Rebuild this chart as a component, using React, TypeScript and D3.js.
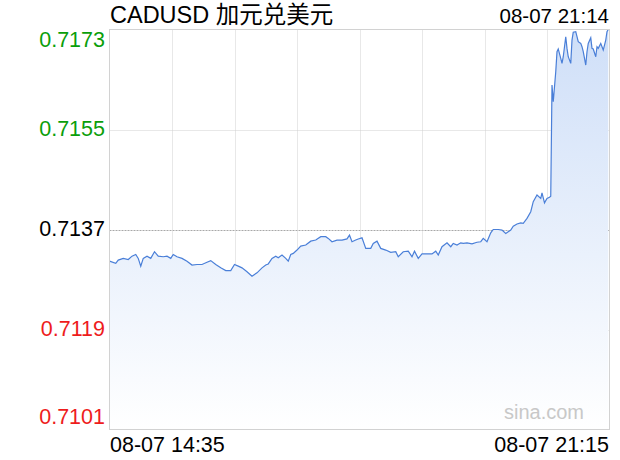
import * as d3 from "d3";

// minute offsets from 08-07 14:35 and CADUSD price
const minutes = [
  0, 5, 7, 11, 15, 18, 21, 23, 25, 27, 30, 33, 36, 39, 43, 46, 49, 51, 54, 58,
  62, 66, 70, 74, 78, 81, 85, 89, 93, 97, 100, 103, 106, 110, 114, 118, 122,
  125, 127, 130, 133, 135, 138, 141, 143, 145, 147, 150, 153, 157, 161, 165,
  169, 173, 175, 178, 182, 186, 190, 192, 194, 197, 199, 202, 205, 209, 211,
  214, 217, 221, 225, 229, 231, 235, 239, 242, 244, 247, 250, 254, 258, 261,
  263, 266, 270, 273, 275, 278, 281, 283, 286, 290, 294, 297, 299, 302, 305,
  307, 311, 314, 317, 319, 321, 323, 326, 329, 331, 334, 337, 339, 342, 345,
  346, 348, 350, 352, 353, 354, 355, 357, 358, 359, 361, 362, 363, 365, 366,
  367, 369, 370, 371, 373, 374, 375, 377, 378, 379, 381, 382, 383, 385, 386,
  387, 389, 390, 391, 393, 394, 395, 397, 398, 399,
];
const prices = [
  0.71313, 0.71309, 0.71315, 0.71318, 0.71316, 0.71322, 0.71325, 0.71318,
  0.71304, 0.71318, 0.71322, 0.71318, 0.7133, 0.71322, 0.71321, 0.71322,
  0.71318, 0.71325, 0.71321, 0.71318, 0.71313, 0.71306, 0.71307, 0.71307,
  0.71311, 0.71314, 0.71307, 0.71301, 0.71296, 0.71296, 0.71307, 0.71304,
  0.71301, 0.71294, 0.71286, 0.71292, 0.71301, 0.71306, 0.71308, 0.71318,
  0.71322, 0.71319, 0.71324, 0.71318, 0.71313, 0.71325, 0.71327, 0.71333,
  0.7134, 0.71342, 0.71349, 0.71351, 0.71357, 0.71357, 0.71354, 0.71348,
  0.71351, 0.71351, 0.71353, 0.7136, 0.71348, 0.71351, 0.71353, 0.71355,
  0.71336, 0.71336, 0.71345, 0.71349, 0.71336, 0.71333, 0.71329, 0.7133,
  0.71321, 0.7133, 0.71331, 0.71321, 0.71331, 0.71318, 0.71326, 0.71326,
  0.71326, 0.71331, 0.71324, 0.71339, 0.71346, 0.71339, 0.71345, 0.71342,
  0.71346, 0.71345, 0.71346, 0.71344, 0.71347, 0.71348, 0.71354, 0.71348,
  0.71364, 0.7137, 0.7137, 0.71369, 0.71363, 0.71366, 0.71369, 0.71376,
  0.7138, 0.71382, 0.71381, 0.7139, 0.71402, 0.7142, 0.71432, 0.71426,
  0.71436, 0.71418, 0.71426, 0.71428, 0.7143, 0.7163, 0.716, 0.71654, 0.7169,
  0.71695, 0.71678, 0.71669, 0.71681, 0.71717, 0.71696, 0.71681, 0.71669,
  0.71711, 0.71725, 0.71726, 0.71717, 0.71708, 0.71705, 0.71699, 0.7169,
  0.71666, 0.7169, 0.71705, 0.71715, 0.71696, 0.71695, 0.71681, 0.71699,
  0.71696, 0.71705, 0.71699, 0.71693, 0.71711, 0.71726, 0.7173, 0.71717,
];

const yTicks = [0.7173, 0.7155, 0.7137, 0.7119, 0.7101];
const prevClose = 0.7137;
const title = "CADUSD 加元兑美元";
const lastTime = "08-07 21:14";
const startLabel = "08-07 14:35";
const endLabel = "08-07 21:15";
const totalMinutes = 400;
const xGridCount = 8;

const W = 620;
const H = 460;
const plot = { left: 109.5, right: 609.5, top: 29.5, bottom: 429.5 };
const font = "'Liberation Sans', Arial, 'Noto Sans CJK SC', sans-serif";

export default function App() {
  const x = d3.scaleLinear().domain([0, totalMinutes]).range([plot.left, plot.right]);
  const y = d3
    .scaleLinear()
    .domain([yTicks[yTicks.length - 1], yTicks[0]])
    .range([plot.bottom, plot.top]);

  const data = minutes.map((m, i) => ({ m, p: prices[i] }));
  const line = d3
    .line<{ m: number; p: number }>()
    .x((d) => x(d.m))
    .y((d) => y(d.p));
  const area = d3
    .area<{ m: number; p: number }>()
    .x((d) => x(d.m))
    .y0(plot.bottom)
    .y1((d) => y(d.p));

  const xGrid = d3.range(1, xGridCount).map((i) => (totalMinutes / xGridCount) * i);

  const labelColor = (v: number) =>
    v > prevClose ? "#0a9e0a" : v < prevClose ? "#ee1c1c" : "#000";
  const labelDy = (i: number) =>
    i === 0 ? 17 : i === yTicks.length - 1 ? -5.5 : 6;

  return (
    <svg
      width={W}
      height={H}
      style={{ position: "absolute", left: 0, top: 0, background: "#fff" }}
      fontFamily={font}
    >
      <defs>
        <linearGradient id="fill" x1="0" y1={plot.top} x2="0" y2={plot.bottom} gradientUnits="userSpaceOnUse">
          <stop offset="0" stopColor="#cfdff8" />
          <stop offset="1" stopColor="#ffffff" />
        </linearGradient>
      </defs>

      {/* grid */}
      {yTicks.slice(1, -1).map((v) => (
        <line
          key={v}
          x1={plot.left}
          x2={plot.right}
          y1={Math.round(y(v)) + 0.5}
          y2={Math.round(y(v)) + 0.5}
          stroke={v === prevClose ? "#a8a8a8" : "#d0d0d0"}
          strokeDasharray={v === prevClose ? "2,1" : "1,1"}
        />
      ))}
      {xGrid.map((m) => (
        <line
          key={m}
          x1={Math.round(x(m)) + 0.5}
          x2={Math.round(x(m)) + 0.5}
          y1={plot.top}
          y2={plot.bottom}
          stroke="#d0d0d0"
          strokeDasharray="1,1"
        />
      ))}

      <path d={area(data) ?? ""} fill="url(#fill)" />
      <path d={line(data) ?? ""} fill="none" stroke="#4a7fd8" strokeWidth={1.2} />

      {/* frame */}
      <rect
        x={plot.left}
        y={plot.top}
        width={plot.right - plot.left}
        height={plot.bottom - plot.top}
        fill="none"
        stroke="#d2d2d2"
      />

      {/* y labels */}
      {yTicks.map((v, i) => (
        <text
          key={v}
          x={105}
          y={y(v) + labelDy(i)}
          textAnchor="end"
          fontSize={21.5}
          fill={labelColor(v)}
        >
          {v.toFixed(4)}
        </text>
      ))}

      <text x={110} y={23} fontSize={23.5} fill="#000">
        {title}
      </text>
      <text x={609} y={23} fontSize={20.5} textAnchor="end" fill="#000">
        {lastTime}
      </text>

      <text x={110} y={452} fontSize={21.5} fill="#000">
        {startLabel}
      </text>
      <text x={609} y={452} fontSize={21.5} textAnchor="end" fill="#000">
        {endLabel}
      </text>

      <text x={584} y={419} fontSize={20} textAnchor="end" fill="#c8c8c8">
        sina.com
      </text>
    </svg>
  );
}
